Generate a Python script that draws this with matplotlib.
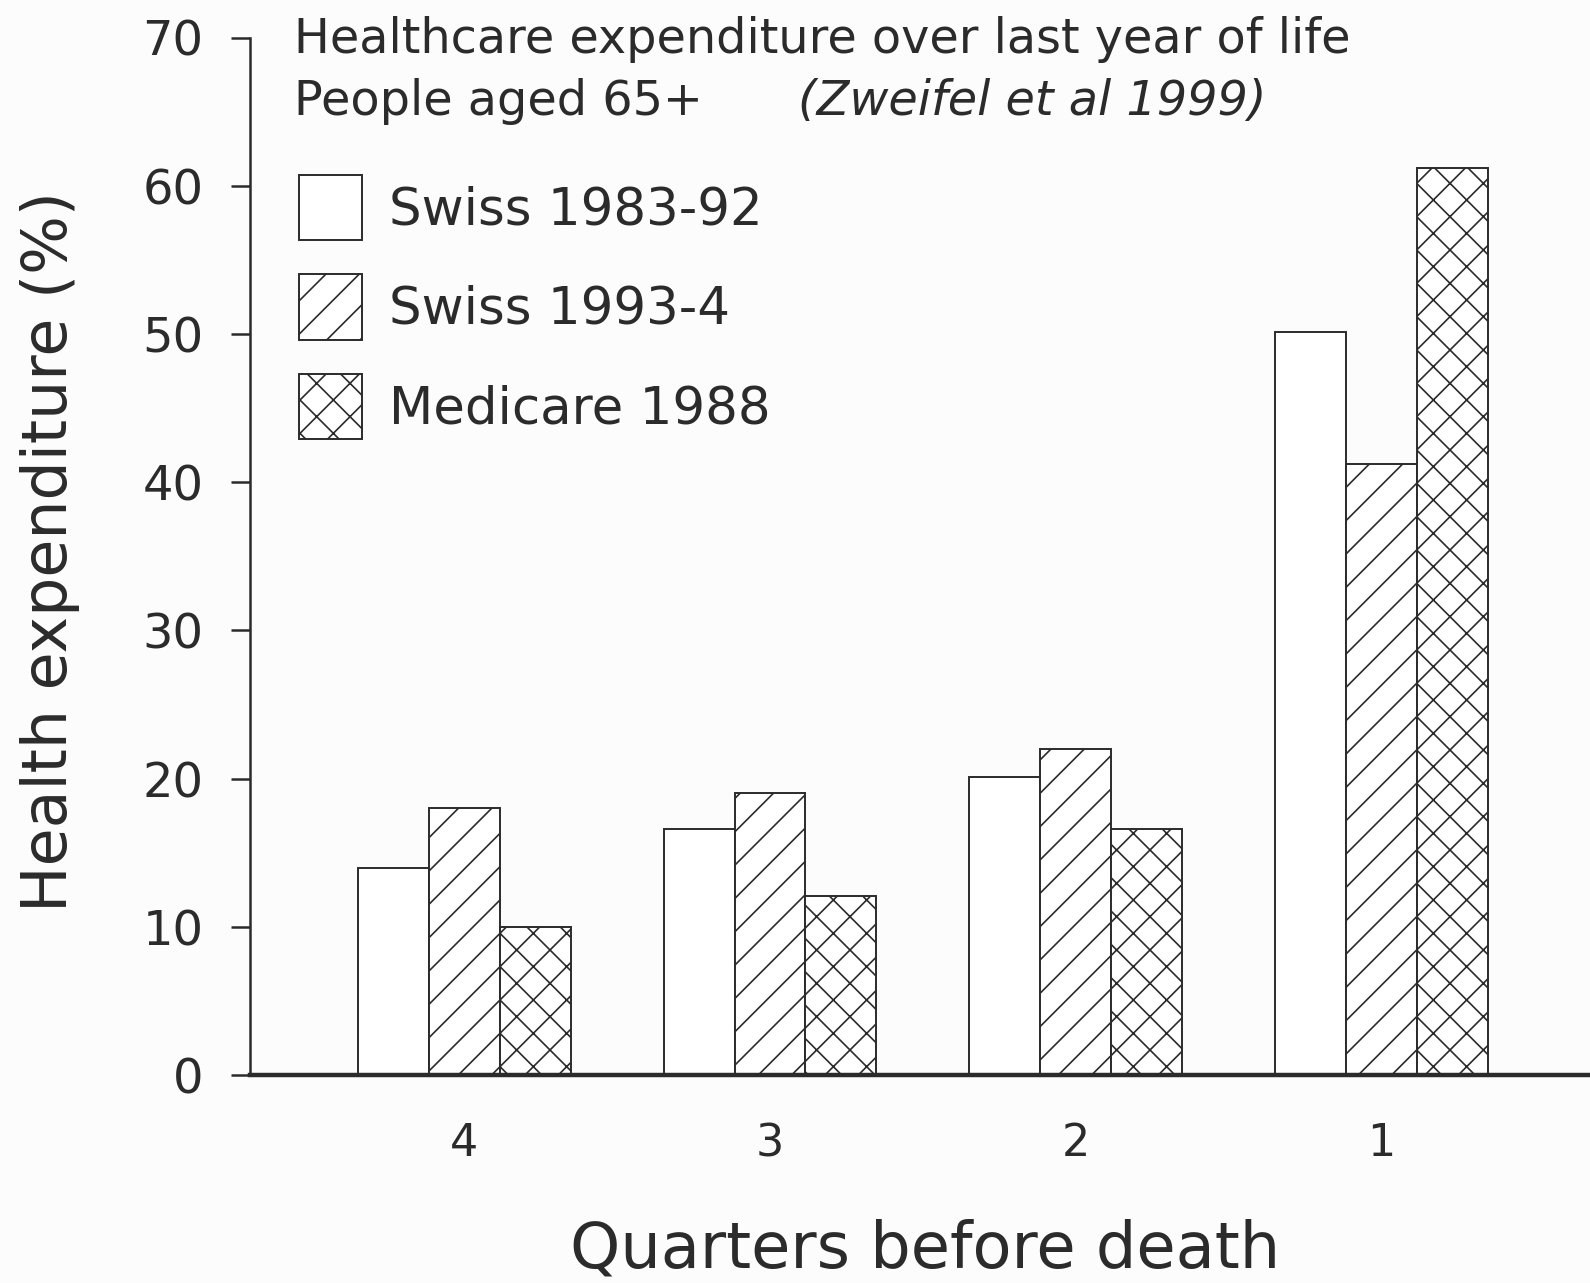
import numpy as np
import matplotlib
matplotlib.use("Agg")
import matplotlib.pyplot as plt

quarters = ["4", "3", "2", "1"]
series_names = ["Swiss 1983-92", "Swiss 1993-4", "Medicare 1988"]
swiss_8392 = [14.0, 16.6, 20.1, 50.1]
swiss_934 = [18.0, 19.0, 22.0, 41.2]
medicare_88 = [10.0, 12.1, 16.6, 61.2]
yticks = [0, 10, 20, 30, 40, 50, 60, 70]

plt.rcParams["font.family"] = ["DejaVu Sans"]
plt.rcParams["hatch.linewidth"] = 0.6

INK = "#2b2b2b"
BG = "#fcfcfc"

W, H = 1590, 1283
DPI = 200
fig = plt.figure(figsize=(W / DPI, H / DPI), dpi=DPI, facecolor=BG)

left = 250 / W
bottom = (H - 1075) / H
top = (H - 37.5) / H
ax = fig.add_axes([left, bottom, 1 - left, top - bottom], facecolor=BG)

x = np.arange(len(quarters))
bw = 0.232
series = [swiss_8392, swiss_934, medicare_88]
hatches = ["", "//", "xx"]
for i, (vals, h, name) in enumerate(zip(series, hatches, series_names)):
    ax.bar(x + (i - 1) * bw, vals, width=bw, facecolor="white",
           edgecolor=INK, hatch=h, linewidth=0.7, label=name)

ax.set_xlim(-0.7016, 3.683)
ax.set_ylim(0, 70)
ax.set_yticks(yticks)
ax.set_xticks(x)
ax.set_xticklabels(quarters)

for s in ["top", "right"]:
    ax.spines[s].set_visible(False)
ax.spines["left"].set_linewidth(0.9)
ax.spines["left"].set_color(INK)
ax.spines["bottom"].set_linewidth(1.6)
ax.spines["bottom"].set_color(INK)

ax.tick_params(axis="y", direction="out", length=6.8, width=0.9,
               pad=10, labelsize=17.3, colors=INK)
ax.tick_params(axis="x", length=0, pad=17, labelsize=16, colors=INK)

fig.text(50 / W, 1 - 552 / H, "Health expenditure (%)", rotation=90,
         ha="center", va="center", fontsize=22.3, color=INK)
fig.text(925 / W, 1 - 1268 / H, "Quarters before death",
         ha="center", va="baseline", fontsize=23, color=INK)

fig.text(294 / W, 1 - 53 / H, "Healthcare expenditure over last year of life",
         ha="left", va="baseline", fontsize=17.2, color=INK)
fig.text(294 / W, 1 - 115 / H, "People aged 65+",
         ha="left", va="baseline", fontsize=17.2, color=INK)
fig.text(798 / W, 1 - 115 / H, "(Zweifel et al 1999)", style="italic",
         ha="left", va="baseline", fontsize=17.2, color=INK)

leg = ax.legend(loc="upper left", bbox_to_anchor=(299 / W, 1 - 175 / H),
                bbox_transform=fig.transFigure, frameon=False,
                fontsize=18.5, handlelength=1.22, handleheight=1.58,
                labelspacing=0.66, handletextpad=0.54,
                borderpad=0, borderaxespad=0)
for t in leg.get_texts():
    t.set_color(INK)

fig.savefig("out.png", dpi=DPI, facecolor=BG)
